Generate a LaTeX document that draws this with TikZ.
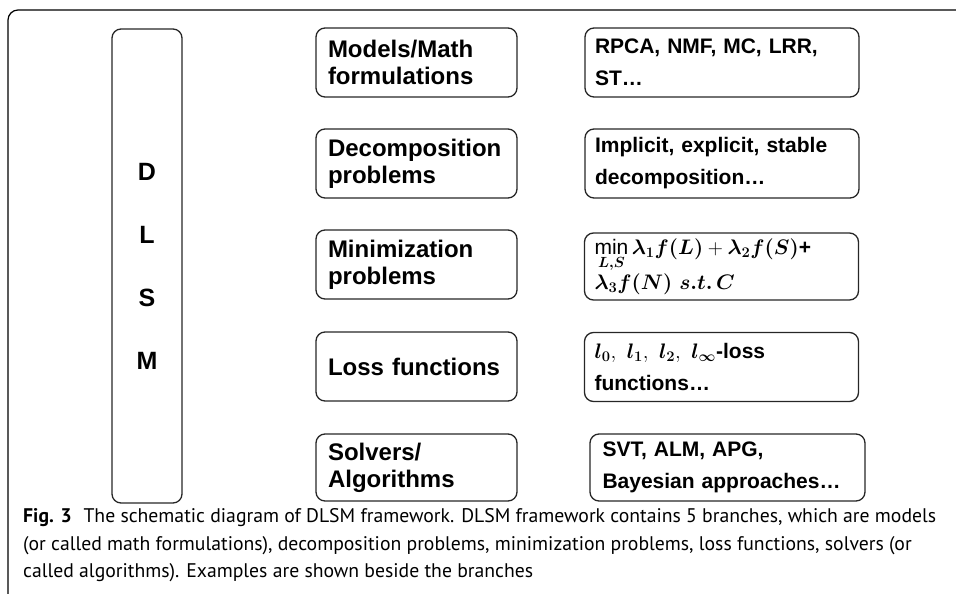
\RequirePackage{fix-cm}
\documentclass[tikz,border=0pt]{standalone}
\usepackage{amsmath,amssymb,bm}
\usepackage{fontspec}
\setmainfont{Liberation Sans}
\newfontfamily\capfont{PT Sans}
\tikzset{
  box/.style={draw=black!85, line width=1.3pt, rounded corners=9pt, inner sep=0pt},
  midbox/.style={box, minimum width=201pt, minimum height=69pt, text width=177pt,
    align=left, font=\fontsize{24}{27}\selectfont\bfseries},
  exbox/.style={box, minimum width=274pt, minimum height=69pt, text width=254pt,
    align=left, font=\fontsize{21}{32}\selectfont\bfseries},
  capline/.style={anchor=base west, inner sep=0pt, font=\capfont\fontsize{19.7}{27}\selectfont}
}
\begin{document}
\begin{tikzpicture}[x=1pt,y=-1pt]
\useasboundingbox (0,0) rectangle (956,594);
\draw[line width=1.2pt, rounded corners=10pt] (960,10) -- (8,10) -- (8,598);

\node[box, minimum width=70pt, minimum height=474pt, align=center,
  font=\fontsize{25}{63}\selectfont\bfseries] (dlsm) at (147,266) {D\\L\\S\\M};

\node[midbox] (m1) at (416.5,62.5) {Models/Math\\formulations};
\node[midbox] (m2) at (416.5,163.5) {Decomposition\\problems};
\node[midbox] (m3) at (416.5,264.5) {Minimization\\problems};
\node[midbox] (m4) at (416.5,366.5) {Loss functions};
\node[midbox, minimum height=67pt] (m5) at (416.5,467.5) {Solvers/\\Algorithms};

\node[exbox] (e1) at (722,62.5) {RPCA, NMF, MC, LRR,\\ST\dots};
\node[exbox] (e2) at (722,163.5) {Implicit, explicit, stable\\decomposition\dots};
\node[exbox, minimum height=67pt] (e3) at (721.5,266.5)
  {$\min\limits_{\boldsymbol{L,S}} \boldsymbol{\lambda_1 f(L)} + \boldsymbol{\lambda_2 f(S)}$+\\
   $\boldsymbol{\lambda_3 f(N)\ s.t.\,C}$};
\node[exbox] (e4) at (721.5,367)
  {$\boldsymbol{l_0},\ \boldsymbol{l_1},\ \boldsymbol{l_2},\ \boldsymbol{l_\infty}$-loss\\functions\dots};
\node[exbox, minimum width=275pt, minimum height=67pt, text width=250pt] (e5) at (727.5,467.5)
  {SVT, ALM, APG,\\Bayesian approaches\dots};

\node[capline] (c1) at (23,522) {\textbf{Fig. 3}\hspace{0.6em}The schematic diagram of DLSM framework. DLSM framework contains 5 branches, which are models};
\node[capline] (c2) at (23,550) {(or called math formulations), decomposition problems, minimization problems, loss functions, solvers (or};
\node[capline] (c3) at (23,577) {called algorithms). Examples are shown beside the branches};
\end{tikzpicture}
\end{document}
